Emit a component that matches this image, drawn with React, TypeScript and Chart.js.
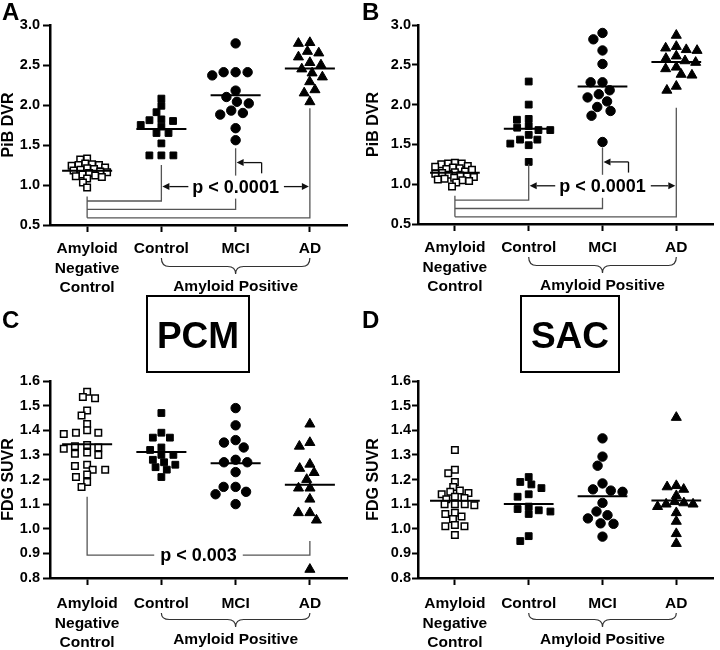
import React, { useEffect, useRef } from "react";
import { Chart, registerables } from "chart.js";

Chart.register(...registerables);

const FONT = '"Liberation Sans", Arial, Helvetica, sans-serif';
Chart.defaults.font.family = FONT;

// ---------------- data ----------------
const groupLabels: (string | string[])[] = [["Amyloid", "Negative", "Control"], "Control", "MCI", "AD"];
const positiveLabel = "Amyloid Positive";

const pibTicks = [0.5, 1.0, 1.5, 2.0, 2.5, 3.0];
const fdgTicks = [0.8, 0.9, 1.0, 1.1, 1.2, 1.3, 1.4, 1.5, 1.6];

// Panel A - PiB DVR
const pibA_neg = [1.33, 1.32, 1.27, 1.26, 1.25, 1.25, 1.24, 1.22, 1.21, 1.2, 1.19, 1.18, 1.17, 1.16, 1.15, 1.13, 1.12, 1.11, 1.1, 1.08, 1.03, 0.97];
const pibA_ctrl = [2.08, 1.99, 1.91, 1.82, 1.81, 1.8, 1.75, 1.73, 1.65, 1.65, 1.52, 1.37, 1.37, 1.37];
const pibA_mci = [2.77, 2.41, 2.41, 2.41, 2.37, 2.18, 2.1, 2.04, 2.02, 1.93, 1.9, 1.88, 1.71, 1.56];
const pibA_ad = [2.78, 2.77, 2.67, 2.65, 2.6, 2.53, 2.5, 2.45, 2.4, 2.35, 2.29, 2.19, 2.15, 2.04];

// Panel B - PiB DVR
const pibB_neg = [1.27, 1.26, 1.26, 1.25, 1.23, 1.22, 1.21, 1.2, 1.19, 1.18, 1.16, 1.15, 1.14, 1.13, 1.12, 1.11, 1.1, 1.09, 1.08, 1.07, 1.06, 1.05, 1.04, 1.02, 0.97];
const pibB_ctrl = [2.29, 2.0, 1.82, 1.81, 1.73, 1.71, 1.68, 1.68, 1.62, 1.56, 1.56, 1.51, 1.49, 1.28];
const pibB_mci = [2.9, 2.82, 2.68, 2.51, 2.28, 2.28, 2.18, 2.13, 2.09, 2.04, 1.97, 1.92, 1.86, 1.53];
const pibB_ad = [2.87, 2.73, 2.71, 2.69, 2.68, 2.61, 2.58, 2.55, 2.53, 2.47, 2.45, 2.38, 2.37, 2.23, 2.18];

// Panel C - PCM FDG SUVR
const pcm_neg = [1.556, 1.535, 1.53, 1.48, 1.46, 1.425, 1.4, 1.385, 1.39, 1.39, 1.34, 1.335, 1.33, 1.325, 1.31, 1.305, 1.3, 1.26, 1.255, 1.24, 1.24, 1.22, 1.21, 1.19, 1.17];
const pcm_ctrl = [1.47, 1.39, 1.37, 1.37, 1.33, 1.32, 1.3, 1.3, 1.28, 1.27, 1.26, 1.25, 1.24, 1.21];
const pcm_mci = [1.49, 1.42, 1.36, 1.35, 1.33, 1.28, 1.27, 1.27, 1.23, 1.17, 1.17, 1.15, 1.14, 1.1];
const pcm_ad = [1.425, 1.35, 1.335, 1.262, 1.245, 1.228, 1.2, 1.165, 1.165, 1.12, 1.065, 1.065, 1.035, 0.835];

// Panel D - SAC FDG SUVR
const sac_neg = [1.32, 1.24, 1.225, 1.19, 1.17, 1.155, 1.15, 1.145, 1.14, 1.13, 1.125, 1.12, 1.1, 1.1, 1.1, 1.095, 1.065, 1.06, 1.05, 1.04, 1.015, 1.01, 1.01, 0.975];
const sac_ctrl = [1.21, 1.19, 1.18, 1.165, 1.14, 1.13, 1.09, 1.08, 1.075, 1.07, 1.06, 0.97, 0.95];
const sac_mci = [1.367, 1.293, 1.256, 1.184, 1.16, 1.155, 1.15, 1.105, 1.07, 1.055, 1.042, 1.022, 1.02, 0.968];
const sac_ad = [1.452, 1.175, 1.17, 1.16, 1.134, 1.11, 1.105, 1.1, 1.1, 1.09, 1.065, 1.03, 0.98, 0.94];

// ---------------- layout / style ----------------
type Panel = {
  letter: string;
  x: number; y: number; w: number; h: number;
  area: { left: number; right: number; top: number; bottom: number };
  yTitle: string;
  ticks: number[];
  groups: number[][];
  yTickLen: number; yTickPad: number; yTitlePad: number; xTickPad: number;
  letterY: number; braceTop: number;
  swarm: [number, number][];
  box?: { text: string; x: number; y: number; w: number; h: number };
  annot: null | { kind: "pib" | "fdg"; text: string };
};

const markerStyles = [
  { pointStyle: "rect", radius: 4.6, bg: "#ffffff", bw: 1.5 },
  { pointStyle: "rect", radius: 4.8, bg: "#000000", bw: 1 },
  { pointStyle: "circle", radius: 4.7, bg: "#000000", bw: 1 },
  { pointStyle: "triangle", radius: 5.8, bg: "#000000", bw: 1 },
];

const panels: Panel[] = [
  {
    letter: "A", x: 0, y: 0, w: 360, h: 325,
    area: { left: 50, right: 347, top: 25, bottom: 225 },
    yTitle: "PiB DVR", ticks: pibTicks, groups: [pibA_neg, pibA_ctrl, pibA_mci, pibA_ad],
    yTickLen: 7, yTickPad: 3, yTitlePad: 1, xTickPad: 7, letterY: 20, braceTop: 33,
    swarm: [[7, 5], [12, 7], [12, 10], [11.5, 9]],
    annot: { kind: "pib", text: "p < 0.0001" },
  },
  {
    letter: "B", x: 360, y: 0, w: 360, h: 325,
    area: { left: 58, right: 357, top: 25, bottom: 224 },
    yTitle: "PiB DVR", ticks: pibTicks, groups: [pibB_neg, pibB_ctrl, pibB_mci, pibB_ad],
    yTickLen: 6, yTickPad: 1, yTitlePad: 6, xTickPad: 7, letterY: 20, braceTop: 33,
    swarm: [[7, 5], [12, 7], [12, 10], [11, 8]],
    annot: { kind: "pib", text: "p < 0.0001" },
  },
  {
    letter: "C", x: 0, y: 280, w: 360, h: 370,
    area: { left: 50, right: 347, top: 101, bottom: 298 },
    yTitle: "FDG SUVR", ticks: fdgTicks, groups: [pcm_neg, pcm_ctrl, pcm_mci, pcm_ad],
    yTickLen: 7, yTickPad: 3, yTitlePad: 1, xTickPad: 9, letterY: 48, braceTop: 35,
    swarm: [[12.5, 5.5], [12, 7], [12, 10], [11.5, 9]],
    box: { text: "PCM", x: 147, y: 16, w: 102, h: 76 },
    annot: { kind: "fdg", text: "p < 0.003" },
  },
  {
    letter: "D", x: 360, y: 280, w: 360, h: 370,
    area: { left: 58, right: 357, top: 101, bottom: 298 },
    yTitle: "FDG SUVR", ticks: fdgTicks, groups: [sac_neg, sac_ctrl, sac_mci, sac_ad],
    yTickLen: 6, yTickPad: 1, yTitlePad: 6, xTickPad: 9, letterY: 48, braceTop: 35,
    swarm: [[10, 5], [12, 7], [12, 10], [9.5, 6]],
    box: { text: "SAC", x: 161, y: 16, w: 98, h: 76 },
    annot: null,
  },
];

// Deterministic beeswarm: spread points of similar value sideways so they do not overlap
function swarmOffsets(values: number[], pxPerUnit: number, pxPerCat: number, dx: number, dy: number): number[] {
  const k = dx / dy;
  const order = values.map((_, i) => i).sort((a, b) => values[b] - values[a]);
  const placed: { x: number; y: number }[] = [];
  const out: number[] = new Array(values.length).fill(0);
  for (const i of order) {
    const y = values[i] * pxPerUnit * k;
    const cands = [0];
    for (const p of placed) {
      const d = Math.abs(p.y - y);
      if (d < dx) {
        const h = Math.sqrt(dx * dx - d * d);
        cands.push(p.x - h, p.x + h);
      }
    }
    cands.sort((a, b) => Math.abs(a) - Math.abs(b) || a - b);
    let best = cands[0];
    for (const c of cands) {
      if (placed.every((p) => (p.x - c) ** 2 + (p.y - y) ** 2 >= dx * dx - 0.01)) {
        best = c;
        break;
      }
    }
    placed.push({ x: best, y });
    out[i] = best / pxPerCat;
  }
  return out;
}

function arrow(ctx: CanvasRenderingContext2D, x0: number, y0: number, x1: number, y1: number) {
  const head = 7, hw = 3.5;
  const ang = Math.atan2(y1 - y0, x1 - x0);
  const bx = x1 - head * Math.cos(ang), by = y1 - head * Math.sin(ang);
  ctx.beginPath();
  ctx.moveTo(x0, y0);
  ctx.lineTo(bx, by);
  ctx.stroke();
  ctx.beginPath();
  ctx.moveTo(x1, y1);
  ctx.lineTo(bx - hw * Math.sin(ang), by + hw * Math.cos(ang));
  ctx.lineTo(bx + hw * Math.sin(ang), by - hw * Math.cos(ang));
  ctx.closePath();
  ctx.fill();
}

function makeDecor(p: Panel) {
  return {
    id: "decor" + p.letter,
    afterDraw(chart: any) {
      const ctx: CanvasRenderingContext2D = chart.ctx;
      const xs = chart.scales.x, ys = chart.scales.y;
      const X = (v: number) => xs.getPixelForValue(v);
      const Y = (v: number) => ys.getPixelForValue(v);
      const axisY = chart.chartArea.bottom;
      ctx.save();
      ctx.fillStyle = "#000";
      ctx.strokeStyle = "#000";
      ctx.textAlign = "left";
      ctx.textBaseline = "alphabetic";
      ctx.font = `bold 24px ${FONT}`;
      ctx.fillText(p.letter, 2, p.letterY);

      if (p.box) {
        const b = p.box;
        ctx.lineWidth = 2;
        ctx.strokeRect(b.x, b.y, b.w, b.h);
        ctx.font = `bold 37px ${FONT}`;
        ctx.textAlign = "center";
        ctx.fillText(b.text, b.x + b.w / 2, b.y + b.h / 2 + 13.5);
      }

      // curly brace under the amyloid positive groups
      const x1 = X(1), x2 = X(3), xm = (x1 + x2) / 2;
      const yT = axisY + p.braceTop, yM = axisY + 41.5, yB = axisY + 49;
      const r = 8;
      ctx.strokeStyle = "#333";
      ctx.lineWidth = 1.2;
      ctx.beginPath();
      ctx.moveTo(x1, yT);
      ctx.quadraticCurveTo(x1, yM, x1 + r, yM);
      ctx.lineTo(xm - r, yM);
      ctx.quadraticCurveTo(xm, yM, xm, yB);
      ctx.quadraticCurveTo(xm, yM, xm + r, yM);
      ctx.lineTo(x2 - r, yM);
      ctx.quadraticCurveTo(x2, yM, x2, yT);
      ctx.stroke();
      ctx.fillStyle = "#000";
      ctx.font = `bold 15.5px ${FONT}`;
      ctx.textAlign = "center";
      ctx.textBaseline = "middle";
      ctx.fillText(positiveLabel, xm, axisY + 62);

      if (p.annot && p.annot.kind === "pib") {
        const xn = X(0), xc = X(1), xmc = X(2), xad = X(3);
        ctx.strokeStyle = "#555";
        ctx.lineWidth = 1.3;
        ctx.beginPath();
        ctx.moveTo(xn, Y(0.855)); ctx.lineTo(xn, Y(0.59));
        ctx.moveTo(xn, Y(0.8)); ctx.lineTo(xc, Y(0.8)); ctx.lineTo(xc, Y(1.25));
        ctx.moveTo(xn, Y(0.695)); ctx.lineTo(xmc, Y(0.695)); ctx.lineTo(xmc, Y(1.46));
        ctx.moveTo(xn, Y(0.59)); ctx.lineTo(xad, Y(0.59)); ctx.lineTo(xad, Y(1.96));
        ctx.stroke();
        ctx.font = `bold 18px ${FONT}`;
        const ty = Y(0.98);
        const tw = ctx.measureText(p.annot.text).width;
        ctx.fillStyle = "#fff";
        ctx.fillRect(xmc - tw / 2 - 3, ty - 11, tw + 6, 23);
        ctx.fillStyle = "#000";
        ctx.textAlign = "center";
        ctx.textBaseline = "middle";
        ctx.fillText(p.annot.text, xmc, ty + 1);
        ctx.strokeStyle = "#111";
        ctx.fillStyle = "#111";
        ctx.lineWidth = 1.3;
        arrow(ctx, xmc - tw / 2 - 4, ty, xc + 1, ty);
        arrow(ctx, xmc + tw / 2 + 5, ty, xad - 1, ty);
        const ex = xmc + 26;
        ctx.beginPath();
        ctx.moveTo(ex, Y(1.146));
        ctx.lineTo(ex, Y(1.28));
        ctx.stroke();
        arrow(ctx, ex, Y(1.28), xmc + 1, Y(1.28));
      } else if (p.annot && p.annot.kind === "fdg") {
        const xn = X(0), xad = X(3), yb = Y(0.893);
        ctx.strokeStyle = "#555";
        ctx.lineWidth = 1.3;
        ctx.beginPath();
        ctx.moveTo(xn, Y(1.13));
        ctx.lineTo(xn, yb);
        ctx.lineTo(xad, yb);
        ctx.lineTo(xad, Y(0.95));
        ctx.stroke();
        ctx.font = `bold 18px ${FONT}`;
        const tw = ctx.measureText(p.annot.text).width;
        const tx = (xn + xad) / 2;
        ctx.fillStyle = "#fff";
        ctx.fillRect(tx - tw / 2 - 6, yb - 11, tw + 12, 23);
        ctx.fillStyle = "#000";
        ctx.textAlign = "center";
        ctx.textBaseline = "middle";
        ctx.fillText(p.annot.text, tx, yb + 1);
      }
      ctx.restore();
    },
  };
}

function buildConfig(p: Panel): any {
  const min = p.ticks[0], max = p.ticks[p.ticks.length - 1];
  const pxPerUnit = (p.area.bottom - p.area.top) / (max - min);
  const pxPerCat = (p.area.right - p.area.left) / groupLabels.length;
  const datasets: any[] = p.groups.map((g, gi) => {
    const offs = swarmOffsets(g, pxPerUnit, pxPerCat, p.swarm[gi][0], p.swarm[gi][1]);
    const m = markerStyles[gi];
    return {
      type: "scatter",
      data: g.map((v, i) => ({ x: gi + offs[i], y: v })),
      pointStyle: m.pointStyle,
      pointRadius: m.radius,
      pointBackgroundColor: m.bg,
      pointBorderColor: "#000",
      pointBorderWidth: m.bw,
      clip: false,
      order: 1,
    };
  });
  const meanData: any[] = [];
  p.groups.forEach((g, i) => {
    const mean = g.reduce((a, b) => a + b, 0) / g.length;
    meanData.push({ x: i - 0.337, y: mean }, { x: i + 0.337, y: mean }, { x: i + 0.5, y: null });
  });
  datasets.push({
    type: "scatter",
    data: meanData,
    showLine: true,
    spanGaps: false,
    borderColor: "#000",
    borderWidth: 2,
    pointRadius: 0,
    clip: false,
    order: 0,
  });

  const tickFontY = { family: FONT, size: 14.5, weight: "bold" };
  const tickFontX = { family: FONT, size: 15.5, weight: "bold", lineHeight: 1.26 };

  return {
    type: "scatter",
    data: { datasets },
    options: {
      responsive: false,
      animation: false,
      events: [],
      layout: { padding: { left: 0, top: p.area.top, right: p.w - p.area.right, bottom: 0 } },
      plugins: { legend: { display: false }, tooltip: { enabled: false } },
      scales: {
        x: {
          type: "linear",
          min: -0.5,
          max: groupLabels.length - 0.5,
          afterFit: (s: any) => { s.height = p.h - p.area.bottom; },
          afterBuildTicks: (s: any) => { s.ticks = groupLabels.map((_, i) => ({ value: i })); },
          ticks: {
            callback: (v: number) => groupLabels[Math.round(v)],
            font: tickFontX,
            color: "#000",
            padding: p.xTickPad,
            maxRotation: 0,
            autoSkip: false,
          },
          grid: { display: true, drawOnChartArea: false, drawTicks: true, tickLength: 7, tickWidth: 2, tickColor: "#000", color: "#000" },
          border: { display: true, color: "#000", width: 2.5 },
        },
        y: {
          type: "linear",
          min,
          max,
          afterFit: (s: any) => { s.width = p.area.left; },
          afterBuildTicks: (s: any) => { s.ticks = p.ticks.map((v) => ({ value: v })); },
          ticks: {
            callback: (v: number) => Number(v).toFixed(1),
            font: tickFontY,
            color: "#000",
            padding: p.yTickPad,
          },
          grid: { display: true, drawOnChartArea: false, drawTicks: true, tickLength: p.yTickLen, tickWidth: 2, tickColor: "#000", color: "#000" },
          border: { display: true, color: "#000", width: 2.5 },
          title: {
            display: true,
            text: p.yTitle,
            color: "#000",
            font: { family: FONT, size: 16, weight: "bold", lineHeight: 1 },
            padding: { top: p.yTitlePad, bottom: 0 },
          },
        },
      },
    },
    plugins: [makeDecor(p)],
  };
}

function PanelChart({ p }: { p: Panel }) {
  const ref = useRef<HTMLCanvasElement>(null);
  useEffect(() => {
    const chart = new Chart(ref.current as HTMLCanvasElement, buildConfig(p));
    return () => chart.destroy();
  }, [p]);
  return (
    <canvas
      ref={ref}
      width={p.w}
      height={p.h}
      style={{ position: "absolute", left: p.x, top: p.y, width: p.w, height: p.h }}
    />
  );
}

export default function App() {
  return (
    <div style={{ position: "absolute", left: 0, top: 0, width: 720, height: 650, background: "#fff", overflow: "hidden" }}>
      {panels.map((p) => (
        <PanelChart key={p.letter} p={p} />
      ))}
    </div>
  );
}
